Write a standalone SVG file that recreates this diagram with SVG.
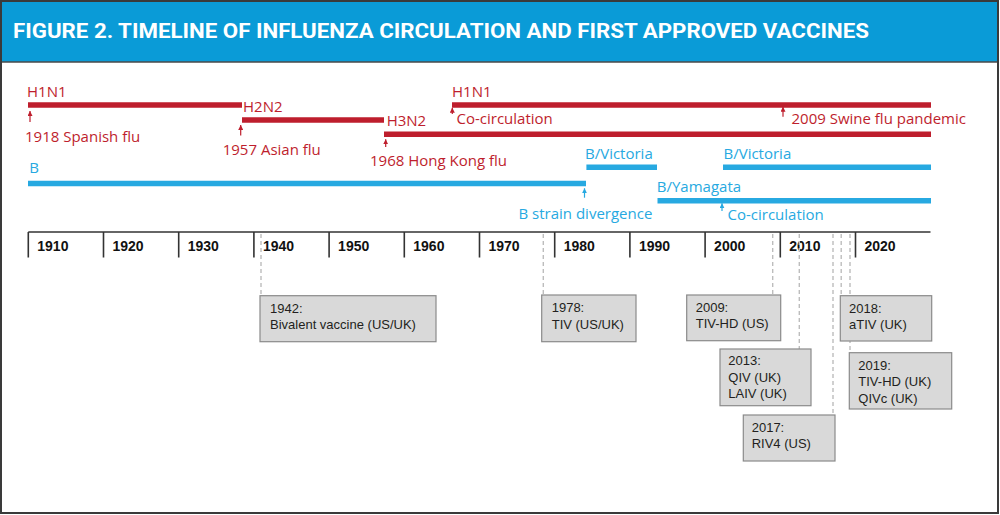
<svg xmlns="http://www.w3.org/2000/svg" width="1000" height="515" viewBox="0 0 1000 515">
<style>
.red{fill:#be1e2d}
.blue{fill:#27a9e1}
.lbl{font-family:"Open Sans","Noto Sans",sans-serif;font-size:15px}
.bar-r{stroke:#be1e2d;stroke-width:5.5;fill:none}
.bar-b{stroke:#27a9e1;stroke-width:5.5;fill:none}
.arr-r{stroke:#be1e2d;stroke-width:1.2;fill:none;marker-end:url(#ahr)}
.arr-b{stroke:#27a9e1;stroke-width:1.2;fill:none;marker-end:url(#ahb)}
.yr{font-family:"Liberation Sans",Arial,sans-serif;font-size:14px;font-weight:bold;fill:#111}
.tick{stroke:#333;stroke-width:1.6;fill:none}
.dash{stroke:#bdbdbd;stroke-width:1.4;stroke-dasharray:4 3;fill:none}
.box{fill:#d9d9d9;stroke:#8a8a8a;stroke-width:1.2}
.bt{font-family:"Liberation Sans",Arial,sans-serif;font-size:13px;fill:#231f20}
</style>
<defs>
<marker id="ahr" viewBox="0 0 6 6" refX="6" refY="3" markerWidth="5" markerHeight="5" markerUnits="userSpaceOnUse" orient="auto"><path d="M0,0 L6,3 L0,6 z" fill="#be1e2d"/></marker>
<marker id="ahb" viewBox="0 0 6 6" refX="6" refY="3" markerWidth="5" markerHeight="5" markerUnits="userSpaceOnUse" orient="auto"><path d="M0,0 L6,3 L0,6 z" fill="#27a9e1"/></marker>
</defs>
<rect x="1" y="1" width="997" height="512" fill="#ffffff" stroke="#3a3a3a" stroke-width="2"/>
<g id="header">
<rect x="2" y="2" width="995" height="60" fill="#0a9bd7"/>
<line x1="2" y1="62" x2="997" y2="62" stroke="#4a4a4a" stroke-width="1.5"/>
<text x="13" y="37.5" font-family="'Liberation Sans Narrow','Roboto','Liberation Sans',sans-serif" font-size="20" font-weight="bold" fill="#ffffff" textLength="856" lengthAdjust="spacingAndGlyphs">FIGURE 2. TIMELINE OF INFLUENZA CIRCULATION AND FIRST APPROVED VACCINES</text>
</g>
<g id="strain-h1n1-1918">
<text class="lbl red" x="27" y="96.7">H1N1</text>
<line class="bar-r" x1="28" y1="105" x2="242" y2="105"/>
<text class="lbl red" x="25" y="141.5">1918 Spanish flu</text>
</g>
<g id="strain-h2n2">
<text class="lbl red" x="243" y="111.7">H2N2</text>
<line class="bar-r" x1="242" y1="120" x2="384" y2="120"/>
<text class="lbl red" x="222.7" y="155">1957 Asian flu</text>
</g>
<g id="strain-h3n2">
<text class="lbl red" x="386.7" y="125.5">H3N2</text>
<line class="bar-r" x1="384" y1="134.3" x2="931" y2="134.3"/>
<text class="lbl red" x="370" y="165.5">1968 Hong Kong flu</text>
</g>
<g id="strain-h1n1-1977">
<text class="lbl red" x="452" y="96.7">H1N1</text>
<line class="bar-r" x1="452" y1="105" x2="931" y2="105"/>
<text class="lbl red" x="456.5" y="124.3">Co-circulation</text>
<text class="lbl red" x="791.5" y="124.3">2009 Swine flu pandemic</text>
</g>
<g id="strain-b">
<text class="lbl blue" x="29.3" y="173.3">B</text>
<line class="bar-b" x1="28" y1="183.5" x2="586" y2="183.5"/>
<text class="lbl blue" x="518.5" y="218.5">B strain divergence</text>
</g>
<g id="strain-bvictoria-1">
<text class="lbl blue" x="585" y="159.3">B/Victoria</text>
<line class="bar-b" x1="586.4" y1="167.3" x2="657" y2="167.3"/>
</g>
<g id="strain-bvictoria-2">
<text class="lbl blue" x="723.5" y="159.3">B/Victoria</text>
<line class="bar-b" x1="723" y1="167.3" x2="931" y2="167.3"/>
</g>
<g id="strain-byamagata">
<text class="lbl blue" x="656.8" y="191.7">B/Yamagata</text>
<line class="bar-b" x1="657.5" y1="200.7" x2="931" y2="200.7"/>
<text class="lbl blue" x="727.5" y="220">Co-circulation</text>
</g>
<g id="axis">
<line class="tick" x1="28.3" y1="232" x2="930.5" y2="232"/>
<path class="tick" d="M28.3,232V257.5 M103.5,232V257.5 M178.7,232V257.5 M253.9,232V257.5 M329.1,232V257.5 M404.3,232V257.5 M479.5,232V257.5 M554.7,232V257.5 M629.9,232V257.5 M705.1,232V257.5 M780.3,232V257.5 M855.5,232V257.5"/>
<text class="yr" x="37.3" y="251">1910</text>
<text class="yr" x="112.5" y="251">1920</text>
<text class="yr" x="187.7" y="251">1930</text>
<text class="yr" x="262.9" y="251">1940</text>
<text class="yr" x="338.1" y="251">1950</text>
<text class="yr" x="413.3" y="251">1960</text>
<text class="yr" x="488.5" y="251">1970</text>
<text class="yr" x="563.7" y="251">1980</text>
<text class="yr" x="638.9" y="251">1990</text>
<text class="yr" x="714.1" y="251">2000</text>
<text class="yr" x="789.3" y="251">2010</text>
<text class="yr" x="864.5" y="251">2020</text>
</g>
<g id="connectors">
<line class="arr-r" x1="30" y1="122" x2="30" y2="111"/>
<line class="arr-r" x1="240.7" y1="135.5" x2="240.7" y2="125"/>
<line class="arr-r" x1="385.7" y1="147" x2="385.7" y2="139.3"/>
<line class="arr-r" x1="452.3" y1="114" x2="452.3" y2="107.7"/>
<line class="arr-r" x1="783" y1="116.7" x2="783" y2="106.7"/>
<line class="arr-b" x1="584.5" y1="197.7" x2="584.5" y2="188.3"/>
<line class="arr-b" x1="722" y1="211" x2="722" y2="203.3"/>
<line class="dash" x1="261" y1="234" x2="261" y2="296"/>
<line class="dash" x1="543.3" y1="234" x2="543.3" y2="295"/>
<line class="dash" x1="772.7" y1="234" x2="772.7" y2="295"/>
<line class="dash" x1="799.3" y1="234" x2="799.3" y2="349"/>
<line class="dash" x1="833" y1="234" x2="833" y2="415"/>
<line class="dash" x1="841.2" y1="234" x2="841.2" y2="295.5"/>
<line class="dash" x1="850" y1="234" x2="850" y2="352.5"/>
</g>
<g id="vaccine-1942">
<rect class="box" x="260" y="295.7" width="176" height="46"/>
<text class="bt" x="270" y="312.5">1942:</text>
<text class="bt" x="270" y="329">Bivalent vaccine (US/UK)</text>
</g>
<g id="vaccine-1978">
<rect class="box" x="541.7" y="295" width="94.3" height="46.7"/>
<text class="bt" x="551.7" y="312">1978:</text>
<text class="bt" x="551.7" y="328.5">TIV (US/UK)</text>
</g>
<g id="vaccine-2009">
<rect class="box" x="686.7" y="295" width="94" height="45.7"/>
<text class="bt" x="695.7" y="311.7">2009:</text>
<text class="bt" x="695.7" y="328.2">TIV-HD (US)</text>
</g>
<g id="vaccine-2013">
<rect class="box" x="720" y="349" width="91" height="56.7"/>
<text class="bt" x="728.3" y="365">2013:</text>
<text class="bt" x="728.3" y="381.5">QIV (UK)</text>
<text class="bt" x="728.3" y="398">LAIV (UK)</text>
</g>
<g id="vaccine-2017">
<rect class="box" x="743.3" y="415" width="91.7" height="46"/>
<text class="bt" x="751.7" y="431.7">2017:</text>
<text class="bt" x="751.7" y="448.2">RIV4 (US)</text>
</g>
<g id="vaccine-2018">
<rect class="box" x="840.3" y="295.7" width="91.4" height="45.3"/>
<text class="bt" x="849" y="312.5">2018:</text>
<text class="bt" x="849" y="329">aTIV (UK)</text>
</g>
<g id="vaccine-2019">
<rect class="box" x="849.3" y="352.7" width="102.4" height="56.3"/>
<text class="bt" x="858.3" y="369.5">2019:</text>
<text class="bt" x="858.3" y="386">TIV-HD (UK)</text>
<text class="bt" x="858.3" y="402.5">QIVc (UK)</text>
</g>
</svg>
